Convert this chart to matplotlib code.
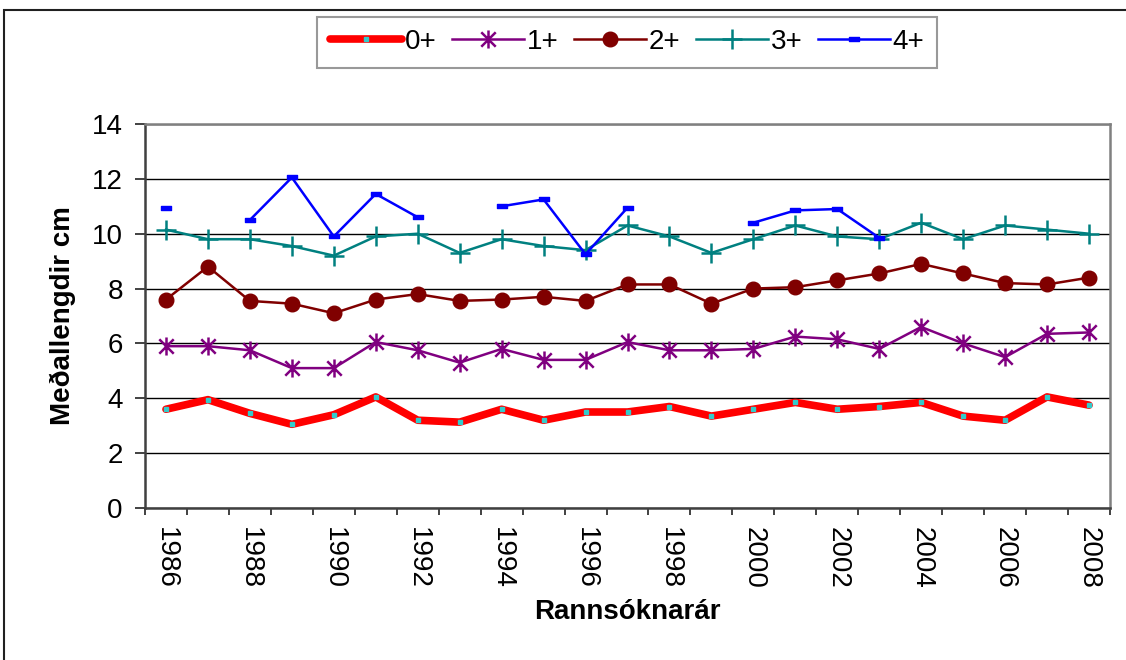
import matplotlib
matplotlib.use('Agg')
import matplotlib.pyplot as plt
from matplotlib.path import Path
from matplotlib.patches import Rectangle
import numpy as np

plt.rcParams['font.family'] = ['Liberation Sans', 'DejaVu Sans']

years = list(range(1986, 2009))
nan = np.nan

aldur_0 = [3.6, 3.95, 3.45, 3.05, 3.4, 4.05, 3.2, 3.13, 3.6, 3.2, 3.5, 3.5,
           3.7, 3.35, 3.6, 3.85, 3.6, 3.7, 3.85, 3.35, 3.2, 4.05, 3.75]
aldur_1 = [5.9, 5.9, 5.75, 5.1, 5.1, 6.05, 5.75, 5.3, 5.8, 5.4, 5.4, 6.05,
           5.75, 5.75, 5.8, 6.25, 6.15, 5.8, 6.6, 6.0, 5.5, 6.35, 6.4]
aldur_2 = [7.6, 8.8, 7.55, 7.45, 7.1, 7.6, 7.8, 7.55, 7.6, 7.7, 7.55, 8.15,
           8.15, 7.45, 8.0, 8.05, 8.3, 8.55, 8.9, 8.55, 8.2, 8.15, 8.4]
aldur_3 = [10.15, 9.8, 9.8, 9.55, 9.2, 9.9, 10.0, 9.3, 9.8, 9.55, 9.4, 10.3,
           9.9, 9.3, 9.8, 10.3, 9.9, 9.8, 10.4, 9.8, 10.3, 10.15, 10.0]
aldur_4 = [10.95, nan, 10.5, 12.05, 9.9, 11.45, 10.6, nan, 11.0, 11.25, 9.25, 10.95,
           nan, nan, 10.4, 10.85, 10.9, 9.85, nan, nan, nan, nan, nan]

# Excel-style markers
asterisk = Path([(0, -1), (0, 1), (-0.8, -0.8), (0.8, 0.8), (-0.8, 0.8), (0.8, -0.8)],
                [Path.MOVETO, Path.LINETO] * 3)
dash = Path([(-1, -0.45), (1, -0.45), (1, 0.45), (-1, 0.45), (-1, -0.45)],
            [Path.MOVETO, Path.LINETO, Path.LINETO, Path.LINETO, Path.CLOSEPOLY])

fs = 20

fig = plt.figure(figsize=(11.26, 6.6), dpi=100)
ax = fig.add_axes([145 / 1126, 1 - 508 / 660, 965 / 1126, 384 / 660])

x = np.arange(len(years))
ax.plot(x, aldur_0, color='#FF0000', lw=5.5, solid_capstyle='round', marker='s',
        ms=3.5, mfc='#33CCCC', mec='#33CCCC', label='0+', zorder=3)
ax.plot(x, aldur_1, color='#800080', lw=1.8, marker=asterisk, ms=13, mew=1.8,
        mec='#800080', label='1+', zorder=3)
ax.plot(x, aldur_2, color='#800000', lw=1.8, marker='o', ms=10.5,
        mfc='#800000', mec='#800000', label='2+', zorder=3)
ax.plot(x, aldur_3, color='#008080', lw=1.8, marker='+', ms=14, mew=1.8,
        label='3+', zorder=3)
ax.plot(x, aldur_4, color='#0000FF', lw=1.8, marker=dash, ms=6.5,
        mfc='#0000FF', mec='#0000FF', label='4+', zorder=3)

ax.set_xlim(-0.5, len(years) - 0.5)
ax.set_ylim(0, 14)
ax.set_yticks(range(0, 15, 2))
ax.yaxis.grid(True, color='black', lw=1)
ax.set_axisbelow(True)

ax.set_xticks(x[::2])
ax.set_xticklabels([str(y) for y in years[::2]], rotation=-90)
ax.set_xticks(np.arange(-0.5, len(years), 1), minor=True)
ax.tick_params(axis='x', which='major', length=0, pad=14, labelsize=fs)
ax.tick_params(axis='x', which='minor', length=5, width=1.3, color='#333333', direction='out')
ax.tick_params(axis='y', length=7, width=1.3, color='#333333', pad=9, labelsize=fs)

for s in ['left', 'bottom']:
    ax.spines[s].set_color('#404040')
    ax.spines[s].set_linewidth(1.8)
for s in ['top', 'right']:
    ax.spines[s].set_color('#808080')
    ax.spines[s].set_linewidth(1.8)

ax.set_ylabel('Meðallengdir cm', fontsize=fs, fontweight='bold', labelpad=11)
ax.set_xlabel('Rannsóknarár', fontsize=fs, fontweight='bold', labelpad=7)

leg = fig.legend(loc='center', bbox_to_anchor=(627 / 1126, 1 - 42 / 660), ncol=5,
                 fontsize=fs, frameon=True, fancybox=False, handlelength=2.6,
                 handletextpad=0.1, columnspacing=0.55, borderpad=0.45)
leg.get_frame().set_edgecolor('#808080')
leg.get_frame().set_linewidth(1.5)

# outer chart frame (left and top edges visible)
fig.patches.append(Rectangle((4 / 1126, -0.05), 1.1, 1 - 10 / 660 + 0.05,
                             transform=fig.transFigure, fill=False,
                             edgecolor='#202020', lw=1.5))

fig.savefig('out.png', dpi=100)
